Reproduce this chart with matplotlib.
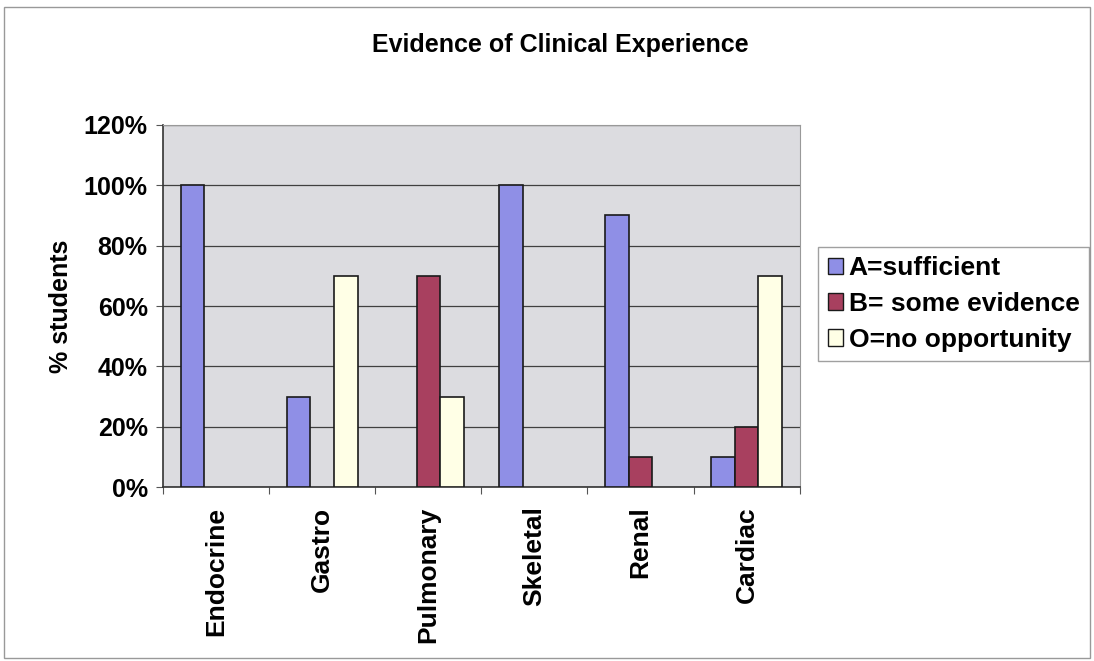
import numpy as np
import matplotlib
matplotlib.use("Agg")
import matplotlib.pyplot as plt
from matplotlib.ticker import PercentFormatter

categories = ["Endocrine", "Gastro", "Pulmonary", "Skeletal", "Renal", "Cardiac"]
sufficient = [100, 30, 0, 100, 90, 10]
some_evidence = [0, 0, 70, 0, 10, 20]
no_opportunity = [0, 70, 30, 0, 0, 70]
series_names = ["A=sufficient", "B= some evidence", "O=no opportunity"]
colors = ["#8f8fe6", "#a8405f", "#ffffe6"]

plt.rcParams['font.family'] = ['Liberation Sans', 'DejaVu Sans']
plt.rcParams['font.weight'] = 'bold'

fig = plt.figure(figsize=(10.94, 6.61), dpi=100)
fig.patch.set_facecolor("white")
ax = fig.add_axes([0.149, 0.263, 0.582, 0.548])
ax.set_facecolor("#dcdce0")

x = np.arange(len(categories))
w = 1 / 4.5
for i, vals in enumerate([sufficient, some_evidence, no_opportunity]):
    # no outline on empty bars, Excel draws nothing there
    lw = [1.2 if v > 0 else 0 for v in vals]
    ax.bar(x + (i - 1) * w, vals, w, color=colors[i], edgecolor="#1a1a1a",
           linewidth=lw, label=series_names[i], zorder=3)

ax.set_xlim(-0.5, len(categories) - 0.5)
ax.set_ylim(0, 120)
ax.set_yticks(range(0, 121, 20))
ax.yaxis.set_major_formatter(PercentFormatter(decimals=0))
ax.grid(axis="y", color="#404040", linewidth=0.9, zorder=0)
ax.set_xticks(np.arange(len(categories) + 1) - 0.5, minor=False)
ax.set_xticklabels([])
ax.set_xticks(x, minor=True)
ax.set_xticklabels(categories, minor=True, rotation=90, fontsize=19, fontweight="bold")
ax.tick_params(axis="x", which="minor", length=0, pad=14)
ax.tick_params(axis="x", which="major", length=5, color="#555555")
ax.tick_params(axis="y", labelsize=18, length=5, color="#555555", pad=6)
for lab in ax.get_yticklabels():
    lab.set_fontweight("bold")

for s in ["top", "right"]:
    ax.spines[s].set_color("#999999")
for s in ["left", "bottom"]:
    ax.spines[s].set_color("#333333")
    ax.spines[s].set_linewidth(1.2)

ax.set_ylabel("% students", fontsize=18, fontweight="bold", labelpad=8)
fig.text(0.512, 0.932, "Evidence of Clinical Experience", ha="center", va="center",
         fontsize=18, fontweight="bold")

leg = fig.legend(loc="center left", bbox_to_anchor=(0.748, 0.54), fontsize=19,
                 frameon=True, fancybox=False, edgecolor="#888888",
                 handlelength=0.6, handleheight=0.6, handletextpad=0.2,
                 borderpad=0.35, labelspacing=0.45, borderaxespad=0)
leg.get_frame().set_linewidth(1.0)
for h in leg.legend_handles:
    h.set_edgecolor("#1a1a1a")
    h.set_linewidth(1.0)

fig.add_artist(plt.Rectangle((0.004, 0.004), 0.992, 0.985, transform=fig.transFigure,
                             fill=False, edgecolor="#999999", linewidth=1))

fig.savefig("out.png", dpi=100)
